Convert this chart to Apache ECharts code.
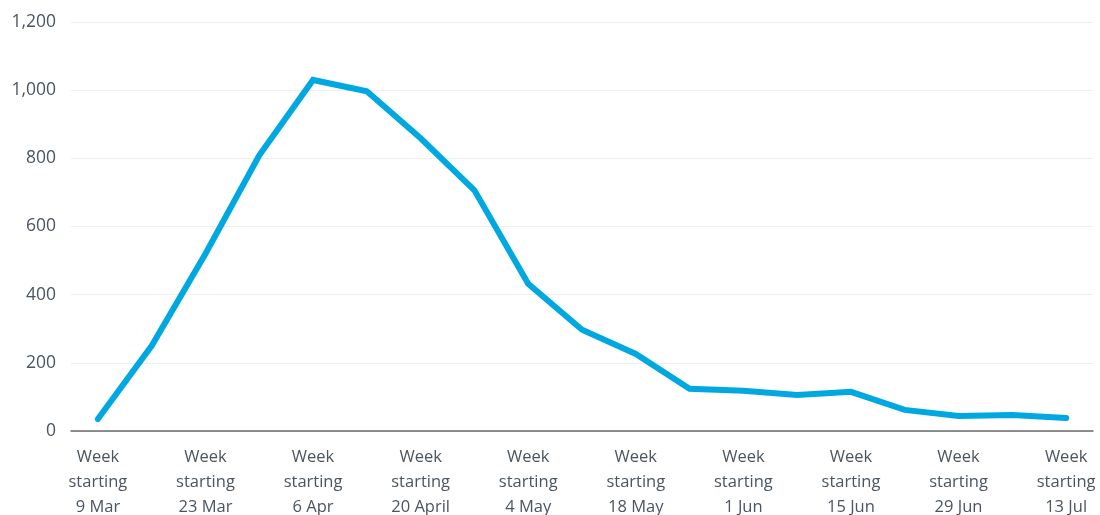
<!DOCTYPE html>
<html><head><meta charset="utf-8">
<script src="https://cdn.jsdelivr.net/npm/echarts@6/dist/echarts.min.js"></script>
<style>html,body{margin:0;padding:0;background:#fff}#c{width:1100px;height:515px}</style>
</head><body><div id="c"></div>
<script>
const categories = ["9 Mar","16 Mar","23 Mar","30 Mar","6 Apr","13 Apr","20 April","27 Apr","4 May","11 May","18 May","25 May","1 Jun","8 Jun","15 Jun","22 Jun","29 Jun","6 Jul","13 Jul"];
const values = [35, 250, 520, 809, 1030, 997, 859, 706, 432, 297, 226, 124, 118, 106, 115, 62, 44, 47, 38];
const yTicks = {min: 0, max: 1200, interval: 200};

const chart = echarts.init(document.getElementById('c'), null, {renderer: 'canvas'});
chart.setOption({
  animation: false,
  grid: {left: 71, right: 7, top: 22, bottom: 84, containLabel: false, outerBoundsMode: 'none'},
  xAxis: {
    type: 'category', data: categories, boundaryGap: true,
    axisLine: {lineStyle: {color: '#6b6b6b', width: 1.5}},
    axisTick: {show: false},
    axisLabel: {
      interval: 1, color: '#4a5561', fontFamily: 'Open Sans', fontSize: 16.5, lineHeight: 25, margin: 14,
      formatter: v => 'Week\nstarting\n' + v
    }
  },
  yAxis: {
    type: 'value', min: yTicks.min, max: yTicks.max, interval: yTicks.interval,
    axisLine: {show: false}, axisTick: {show: false},
    splitLine: {lineStyle: {color: '#eeeeee', width: 1}},
    axisLabel: {color: '#4a5561', fontFamily: 'Open Sans', fontSize: 17.5, margin: 15,
      formatter: v => v.toLocaleString('en-US')}
  },
  series: [{
    type: 'line', data: values, symbol: 'none',
    lineStyle: {color: '#00a8e1', width: 6, cap: 'round', join: 'miter'}
  }]
});
</script></body></html>
